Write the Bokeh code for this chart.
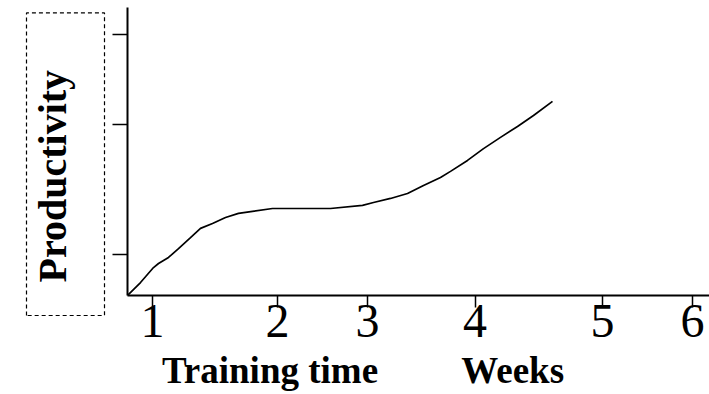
from bokeh.plotting import figure
from bokeh.models import Range1d, FixedTicker, Title
from bokeh.embed import file_html
from bokeh.resources import INLINE

# Curve: training time (axis units) vs productivity (arbitrary units)
weeks = [0.8, 0.904, 1.008, 1.048, 1.128, 1.208, 1.304, 1.384, 1.48, 1.584,
         1.688, 1.8, 1.96, 2.184, 2.424, 2.68, 2.768, 2.904, 3.04, 3.168,
         3.304, 3.384, 3.52, 3.648, 3.784, 3.92, 4.048, 4.2]
productivity = [0.0, 0.45, 0.97, 1.11, 1.32, 1.63, 2.01, 2.33, 2.50, 2.71,
                2.85, 2.92, 3.02, 3.02, 3.02, 3.13, 3.23, 3.37, 3.54, 3.82,
                4.10, 4.31, 4.69, 5.10, 5.49, 5.87, 6.25, 6.74]

# x-axis tick positions (hand-drawn, unevenly spaced) and their labels
x_tick_pos = [1.0, 2.0, 2.72, 3.58, 4.6, 5.32]
x_tick_labels = ["1", "2", "3", "4", "5", "6"]
y_tick_pos = [1.42, 5.94, 9.06]

SERIF = "Liberation Serif"
NB = "\u00a0"
x_label = "Training" + NB + "time" + NB * 9 + "Weeks" + NB * 12
y_label = NB * 3 + "Productivity" + NB * 4

p = figure(width=709, height=394, output_backend="svg", toolbar_location=None,
           x_range=Range1d(0.8, 5.456), y_range=Range1d(0, 10),
           min_border_left=127, min_border_right=0, min_border_top=7,
           min_border_bottom=99)
p.outline_line_color = None
p.xgrid.visible = False
p.ygrid.visible = False
p.background_fill_color = "white"
p.border_fill_color = "white"

p.line(weeks, productivity, line_color="black", line_width=1.7)

xa = p.xaxis[0]
xa.ticker = FixedTicker(ticks=x_tick_pos)
xa.major_label_overrides = {t: l for t, l in zip(x_tick_pos, x_tick_labels)}
xa.axis_line_width = 2
xa.axis_line_color = "black"
xa.major_tick_in = 0
xa.major_tick_out = 12
xa.major_tick_line_width = 1.5
xa.minor_tick_line_color = None
xa.major_label_text_font = SERIF
xa.major_label_text_font_size = "48px"
xa.major_label_text_color = "black"
xa.major_label_standoff = -3
xa.axis_label = x_label
xa.axis_label_text_font = SERIF
xa.axis_label_text_font_style = "bold"
xa.axis_label_text_font_size = "37px"
xa.axis_label_text_color = "black"
xa.axis_label_standoff = 10

ya = p.yaxis[0]
ya.ticker = FixedTicker(ticks=y_tick_pos)
ya.axis_line_width = 2
ya.axis_line_color = "black"
ya.major_tick_in = 0
ya.major_tick_out = 15
ya.major_tick_line_width = 1.5
ya.minor_tick_line_color = None
ya.major_label_text_font_size = "0px"
ya.major_label_text_color = None
ya.major_label_standoff = 0

ylab = Title(text=y_label, align="left", offset=-20,
             text_font=SERIF, text_font_style="bold", text_font_size="40px",
             text_color="black", border_line_color="black",
             border_line_dash="4 3", border_line_width=1.2,
             padding=(3, 17, 3, 30), standoff=16)
p.add_layout(ylab, "left")

open("out.html", "w").write(file_html(p, INLINE))
